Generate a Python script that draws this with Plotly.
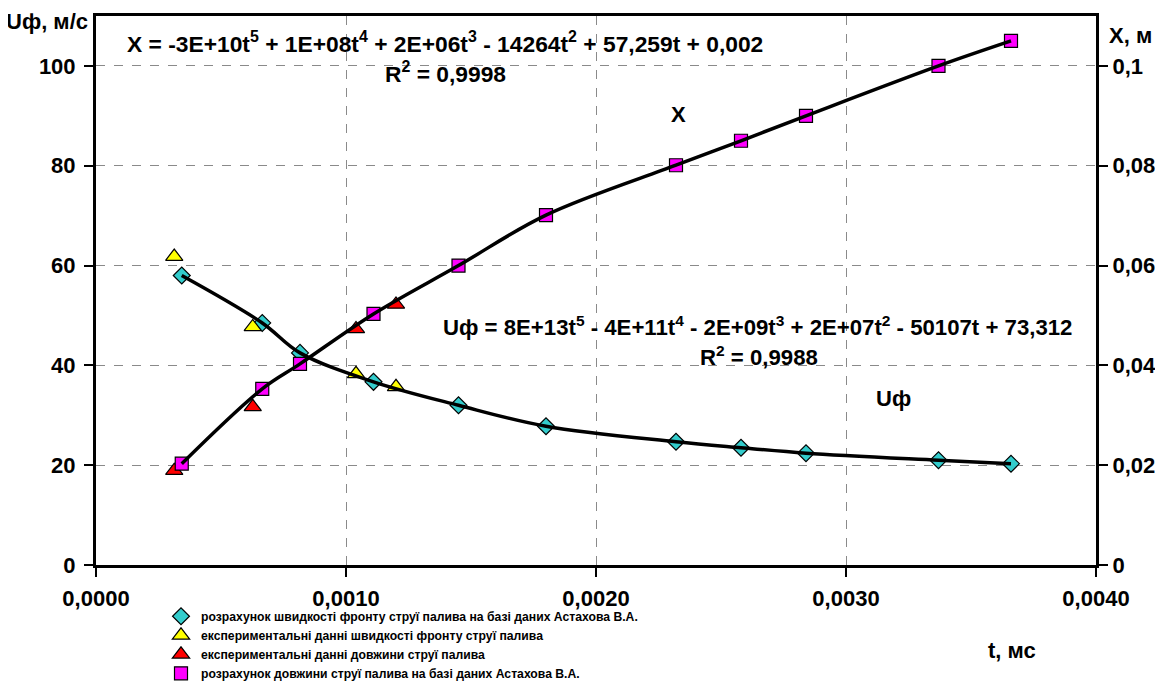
import plotly.graph_objects as go

# ---- data ----
t_calc = [0.000343, 0.000665, 0.000816, 0.00111, 0.00145, 0.0018, 0.00232, 0.00258, 0.00284, 0.00337, 0.00366]
u_calc = [58.0, 48.5, 42.5, 36.7, 32.0, 27.8, 24.7, 23.5, 22.4, 21.0, 20.3]
x_calc = [0.0203, 0.0353, 0.0403, 0.0503, 0.0600, 0.0701, 0.0801, 0.085, 0.090, 0.100, 0.105]
t_exp = [0.000313, 0.000627, 0.00104, 0.00120]
u_exp = [61.8, 47.7, 38.3, 35.7]
x_exp = [0.0189, 0.0317, 0.0473, 0.0522]

x_tickvals = [0, 0.001, 0.002, 0.003, 0.004]
x_ticktext = ["0,0000", "0,0010", "0,0020", "0,0030", "0,0040"]
y_tickvals = [0, 20, 40, 60, 80, 100]
y_ticktext = ["0", "20", "40", "60", "80", "100"]
y2_tickvals = [0, 0.02, 0.04, 0.06, 0.08, 0.1]
y2_ticktext = ["0", "0,02", "0,04", "0,06", "0,08", "0,1"]

names = [
    "розрахунок швидкості фронту струї палива на базі даних Астахова В.А.",
    "експериментальні данні швидкості фронту струї палива",
    "експериментальні данні довжини струї палива",
    "розрахунок довжини струї палива на базі даних Астахова В.А.",
]

FONT = "Liberation Sans, Arial, sans-serif"
fig = go.Figure()

fig.add_trace(go.Scatter(x=t_calc, y=u_calc, mode="markers", name=names[0],
                         marker=dict(symbol="diamond", size=13, color="#33CCCC",
                                     line=dict(color="black", width=1.2))))
fig.add_trace(go.Scatter(x=t_exp, y=u_exp, mode="markers", name=names[1],
                         marker=dict(symbol="triangle-up", size=15, color="#FFFF00",
                                     line=dict(color="black", width=1.2))))
fig.add_trace(go.Scatter(x=t_exp, y=x_exp, mode="markers", name=names[2], yaxis="y2",
                         marker=dict(symbol="triangle-up", size=15, color="#FF0000",
                                     line=dict(color="black", width=1.2))))
fig.add_trace(go.Scatter(x=t_calc, y=x_calc, mode="markers", name=names[3], yaxis="y2",
                         marker=dict(symbol="square", size=13, color="#FF00FF",
                                     line=dict(color="black", width=1.2))))
# trend lines
fig.add_trace(go.Scatter(x=t_calc, y=u_calc, mode="lines", showlegend=False,
                         line=dict(color="black", width=3.5, shape="spline", smoothing=1.0)))
fig.add_trace(go.Scatter(x=t_calc, y=x_calc, mode="lines", showlegend=False, yaxis="y2",
                         line=dict(color="black", width=3.5, shape="spline", smoothing=1.0)))

tickfont = dict(family=FONT, size=22, color="black", weight="bold")
grid = dict(showgrid=True, gridcolor="#8a8a8a", griddash="dash", gridwidth=1)

# page body has an 8px margin: figure starts at (8, 8) and is sized to avoid overflow
fig.update_layout(
    width=1147, height=673,
    paper_bgcolor="white", plot_bgcolor="white",
    margin=dict(l=88, r=59, t=8, b=116, autoexpand=False),
    font=dict(family=FONT, color="black"),
    xaxis=dict(range=[0, 0.004], tickvals=x_tickvals, ticktext=x_ticktext,
               tickfont=tickfont, ticks="outside", ticklen=9, tickcolor="black", tickwidth=2,
               ticklabelstandoff=3, automargin=False,
               showline=True, linecolor="black", linewidth=3, mirror=True,
               zeroline=False, **grid),
    yaxis=dict(range=[0, 110], tickvals=y_tickvals, ticktext=y_ticktext,
               tickfont=tickfont, ticks="outside", ticklen=9, tickcolor="black", tickwidth=2,
               ticklabelstandoff=4, automargin=False,
               showline=True, linecolor="black", linewidth=3,
               zeroline=False, **grid),
    yaxis2=dict(range=[0, 0.11], tickvals=y2_tickvals, ticktext=y2_ticktext,
                overlaying="y", side="right", automargin=False,
                tickfont=tickfont, ticks="outside", ticklen=9, tickcolor="black", tickwidth=2,
                ticklabelstandoff=0,
                showline=True, linecolor="black", linewidth=3,
                showgrid=False, zeroline=False),
    legend=dict(x=0.065, y=-0.067, xanchor="left", yanchor="top",
                font=dict(family=FONT, size=12.2, color="black", weight="bold"),
                bgcolor="rgba(0,0,0,0)", tracegroupgap=0, itemwidth=30),
    showlegend=True,
)

def ann(text, x, y, size=22, xanchor="center"):
    fig.add_annotation(text=text, x=x, y=y, xref="paper", yref="paper",
                       showarrow=False, xanchor=xanchor, yanchor="middle",
                       font=dict(family=FONT, size=size, color="black", weight="bold"))

ann("X = -3E+10t<sup>5</sup> + 1E+08t<sup>4</sup> + 2E+06t<sup>3</sup> - 14264t<sup>2</sup> + 57,259t + 0,002",
    0.349, 0.951, size=22.8)
ann("R<sup>2</sup> = 0,9998", 0.349, 0.897, size=22.8)
ann("Uф = 8E+13t<sup>5</sup> - 4E+11t<sup>4</sup> - 2E+09t<sup>3</sup> + 2E+07t<sup>2</sup> - 50107t + 73,312",
    0.661, 0.435, size=22.2)
ann("R<sup>2</sup> = 0,9988", 0.663, 0.381, size=22.2)
ann("X", 0.582, 0.820)
ann("Uф", 0.797, 0.304)
ann("Uф, м/с", -0.049, 0.990)
ann("X, м", 1.034, 0.965)
ann("t, мс", 0.916, -0.155)

fig.write_html("out.html")
